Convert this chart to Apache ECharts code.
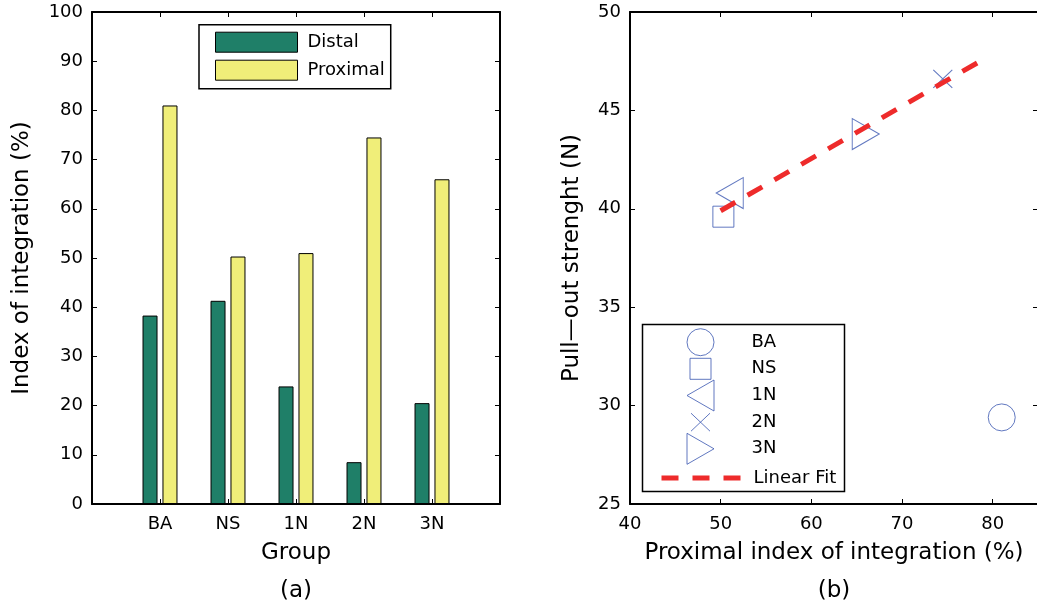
<!DOCTYPE html>
<html>
<head>
<meta charset="utf-8">
<script src="https://cdn.jsdelivr.net/npm/echarts@6/dist/echarts.min.js"></script>
<style>
  html, body { margin: 0; padding: 0; background: #fff; }
  #chart { width: 1037px; height: 611px; }
</style>
</head>
<body>
<div id="chart"></div>
<script>
// Groups and measured values
const groups = ['BA', 'NS', '1N', '2N', '3N'];
const distal = [38.3, 41.3, 23.9, 8.5, 20.5];      // index of integration, distal (%)
const proximal = [81.0, 50.3, 51.0, 74.5, 66.0];   // index of integration, proximal (%)
const pullOut = [29.4, 39.6, 40.8, 46.6, 43.8];    // pull-out strength (N)
// Linear fit segment end points (x = proximal %, y = N)
const fitX = [50, 79];
const fitY = [39.9, 47.6];

const FONT = 'DejaVu Sans';
const BLUE = '#3a56b0';
const GREEN = '#1f7f68';
const YELLOW = '#f0ee79';
const RED = '#ee2b2b';

// Marker look for each group in panel (b): w/h are the drawn marker width/height
const markerStyle = {
  'BA': { symbol: 'circle', size: 27, w: 27, h: 27 },
  'NS': { symbol: 'path://M0,0H10V10H0Z', size: 21, w: 21, h: 21 },
  '1N': { symbol: 'path://M0,15.5L27,0L27,31Z', size: [27, 31], w: 27, h: 31 },
  '2N': { symbol: 'path://M0,0L19,18M19,0L0,18', size: [19, 18], w: 19, h: 18 },
  '3N': { symbol: 'path://M27,15.5L0,0L0,31Z', size: [27, 31], w: 27, h: 31 }
};
// Legend layout for panel (b): row centres, marker column centre
const legendRowY = [341.7, 368.3, 395, 421.7, 448.3, 474];
const legendIconX = 700;

// Category axis with an empty slot at each end so the groups sit at 1..5 on a 0..6 range
const paddedCats = [''].concat(groups, ['']);
const pad = arr => ['-'].concat(arr, ['-']);

const axisLine = { show: true, onZero: false, lineStyle: { color: '#000', width: 2 } };
const axisTick = { show: true, inside: true, length: 5, lineStyle: { color: '#000', width: 1 } };
const tickLabel = { fontFamily: FONT, fontSize: 18, color: '#000' };
const nameStyle = { fontFamily: FONT, fontSize: 23, color: '#000' };

const chart = echarts.init(document.getElementById('chart'), null, { renderer: 'canvas' });

const legends = [
  {
    data: ['Distal', 'Proximal'],
    orient: 'vertical',
    left: 199, top: 24.7,
    itemWidth: 82, itemHeight: 20, itemGap: 7,
    padding: [7, 6, 8, 16],
    borderColor: '#000', borderWidth: 1.5,
    icon: 'rect',
    selectedMode: false,
    itemStyle: { borderColor: '#000', borderWidth: 1 },
    textStyle: { fontFamily: FONT, fontSize: 18, color: '#000', lineHeight: 18, padding: [0, 0, 0, 5] }
  }
];
groups.forEach((g, i) => {
  const m = markerStyle[g];
  legends.push({
    data: [g],
    orient: 'horizontal',
    // the item box is laid out from the marker's own left edge
    left: legendIconX - m.w / 2, top: legendRowY[i] - m.h / 2,
    itemWidth: 92, itemHeight: m.h, itemGap: 0,
    padding: 0,
    symbolKeepAspect: true,
    selectedMode: false,
    itemStyle: { borderColor: BLUE, borderWidth: 1, color: 'rgba(0,0,0,0)' },
    textStyle: { fontFamily: FONT, fontSize: 18, color: '#000', lineHeight: 10 }
  });
});
legends.push({
  data: ['Linear Fit'],
  orient: 'horizontal',
  left: 659, top: legendRowY[5] - 5,
  itemWidth: 82, itemHeight: 10, itemGap: 0,
  padding: 0,
  selectedMode: false,
  itemStyle: { opacity: 0 },
  lineStyle: { color: RED, width: 5, type: [17, 14] },
  textStyle: { fontFamily: FONT, fontSize: 18, color: '#000', lineHeight: 10, padding: [0, 0, 0, 5] }
});

const series = [
  {
    type: 'bar', name: 'Distal',
    xAxisIndex: 0, yAxisIndex: 0,
    data: pad(distal),
    barWidth: 15, barGap: '33%',
    itemStyle: { color: GREEN, borderColor: '#000', borderWidth: 1 },
    emphasis: { disabled: true }
  },
  {
    type: 'bar', name: 'Proximal',
    xAxisIndex: 0, yAxisIndex: 0,
    data: pad(proximal),
    barWidth: 15, barGap: '33%',
    itemStyle: { color: YELLOW, borderColor: '#000', borderWidth: 1 },
    emphasis: { disabled: true }
  }
];
groups.forEach((g, i) => {
  series.push({
    type: 'scatter', name: g,
    xAxisIndex: 2, yAxisIndex: 2,
    data: [[proximal[i], pullOut[i]]],
    symbol: markerStyle[g].symbol,
    symbolSize: markerStyle[g].size,
    itemStyle: { color: 'rgba(0,0,0,0)', borderColor: BLUE, borderWidth: 1 },
    emphasis: { disabled: true },
    z: 3
  });
});
series.push({
  type: 'line', name: 'Linear Fit',
  xAxisIndex: 2, yAxisIndex: 2,
  data: fitX.map((x, i) => [x, fitY[i]]),
  symbol: 'none',
  lineStyle: { color: RED, width: 5, type: [17, 14], cap: 'butt' },
  emphasis: { disabled: true },
  z: 5
});

const option = {
  animation: false,
  backgroundColor: '#fff',
  grid: [
    { left: 92, top: 12, width: 408, height: 492, containLabel: false, outerBoundsMode: 'none' },
    { left: 630, top: 12, width: 408, height: 492, containLabel: false, outerBoundsMode: 'none' }
  ],
  xAxis: [
    {
      gridIndex: 0, type: 'category', position: 'bottom', data: paddedCats, boundaryGap: false,
      axisLine, axisTick, axisLabel: Object.assign({ margin: 11, interval: 0 }, tickLabel),
      splitLine: { show: false },
      name: 'Group', nameLocation: 'middle', nameGap: 38, nameTextStyle: nameStyle
    },
    {
      gridIndex: 0, type: 'category', position: 'top', data: paddedCats, boundaryGap: false,
      axisLine, axisTick, axisLabel: { show: false }, splitLine: { show: false }
    },
    {
      gridIndex: 1, type: 'value', position: 'bottom', min: 40, max: 85, interval: 10,
      axisLine, axisTick,
      axisLabel: Object.assign({ margin: 11, showMaxLabel: false }, tickLabel),
      splitLine: { show: false },
      name: 'Proximal index of integration (%)', nameLocation: 'middle', nameGap: 38, nameTextStyle: nameStyle
    },
    {
      gridIndex: 1, type: 'value', position: 'top', min: 40, max: 85, interval: 10,
      axisLine, axisTick, axisLabel: { show: false }, splitLine: { show: false }
    }
  ],
  yAxis: [
    {
      gridIndex: 0, type: 'value', position: 'left', min: 0, max: 100, interval: 10,
      axisLine, axisTick, axisLabel: Object.assign({ margin: 9 }, tickLabel),
      splitLine: { show: false },
      name: 'Index of integration (%)', nameLocation: 'middle', nameGap: 58, nameTextStyle: nameStyle
    },
    {
      gridIndex: 0, type: 'value', position: 'right', min: 0, max: 100, interval: 10,
      axisLine, axisTick, axisLabel: { show: false }, splitLine: { show: false }
    },
    {
      gridIndex: 1, type: 'value', position: 'left', min: 25, max: 50, interval: 5,
      axisLine, axisTick, axisLabel: Object.assign({ margin: 9 }, tickLabel),
      splitLine: { show: false },
      name: 'Pull\u2014out strenght (N)', nameLocation: 'middle', nameGap: 46, nameTextStyle: nameStyle
    },
    {
      gridIndex: 1, type: 'value', position: 'right', min: 25, max: 50, interval: 5,
      axisLine, axisTick, axisLabel: { show: false }, splitLine: { show: false }
    }
  ],
  legend: legends,
  graphic: [
    {
      type: 'rect', silent: true, z: 10,
      shape: { x: 642.5, y: 324.5, width: 202, height: 167 },
      style: { fill: 'rgba(0,0,0,0)', stroke: '#000', lineWidth: 1.5 }
    },
    {
      type: 'text', x: 296, y: 591, silent: true,
      style: { text: '(a)', fontFamily: FONT, fontSize: 23, fill: '#000', align: 'center', verticalAlign: 'middle' }
    },
    {
      type: 'text', x: 834, y: 591, silent: true,
      style: { text: '(b)', fontFamily: FONT, fontSize: 23, fill: '#000', align: 'center', verticalAlign: 'middle' }
    }
  ],
  series
};

chart.setOption(option);
</script>
</body>
</html>
